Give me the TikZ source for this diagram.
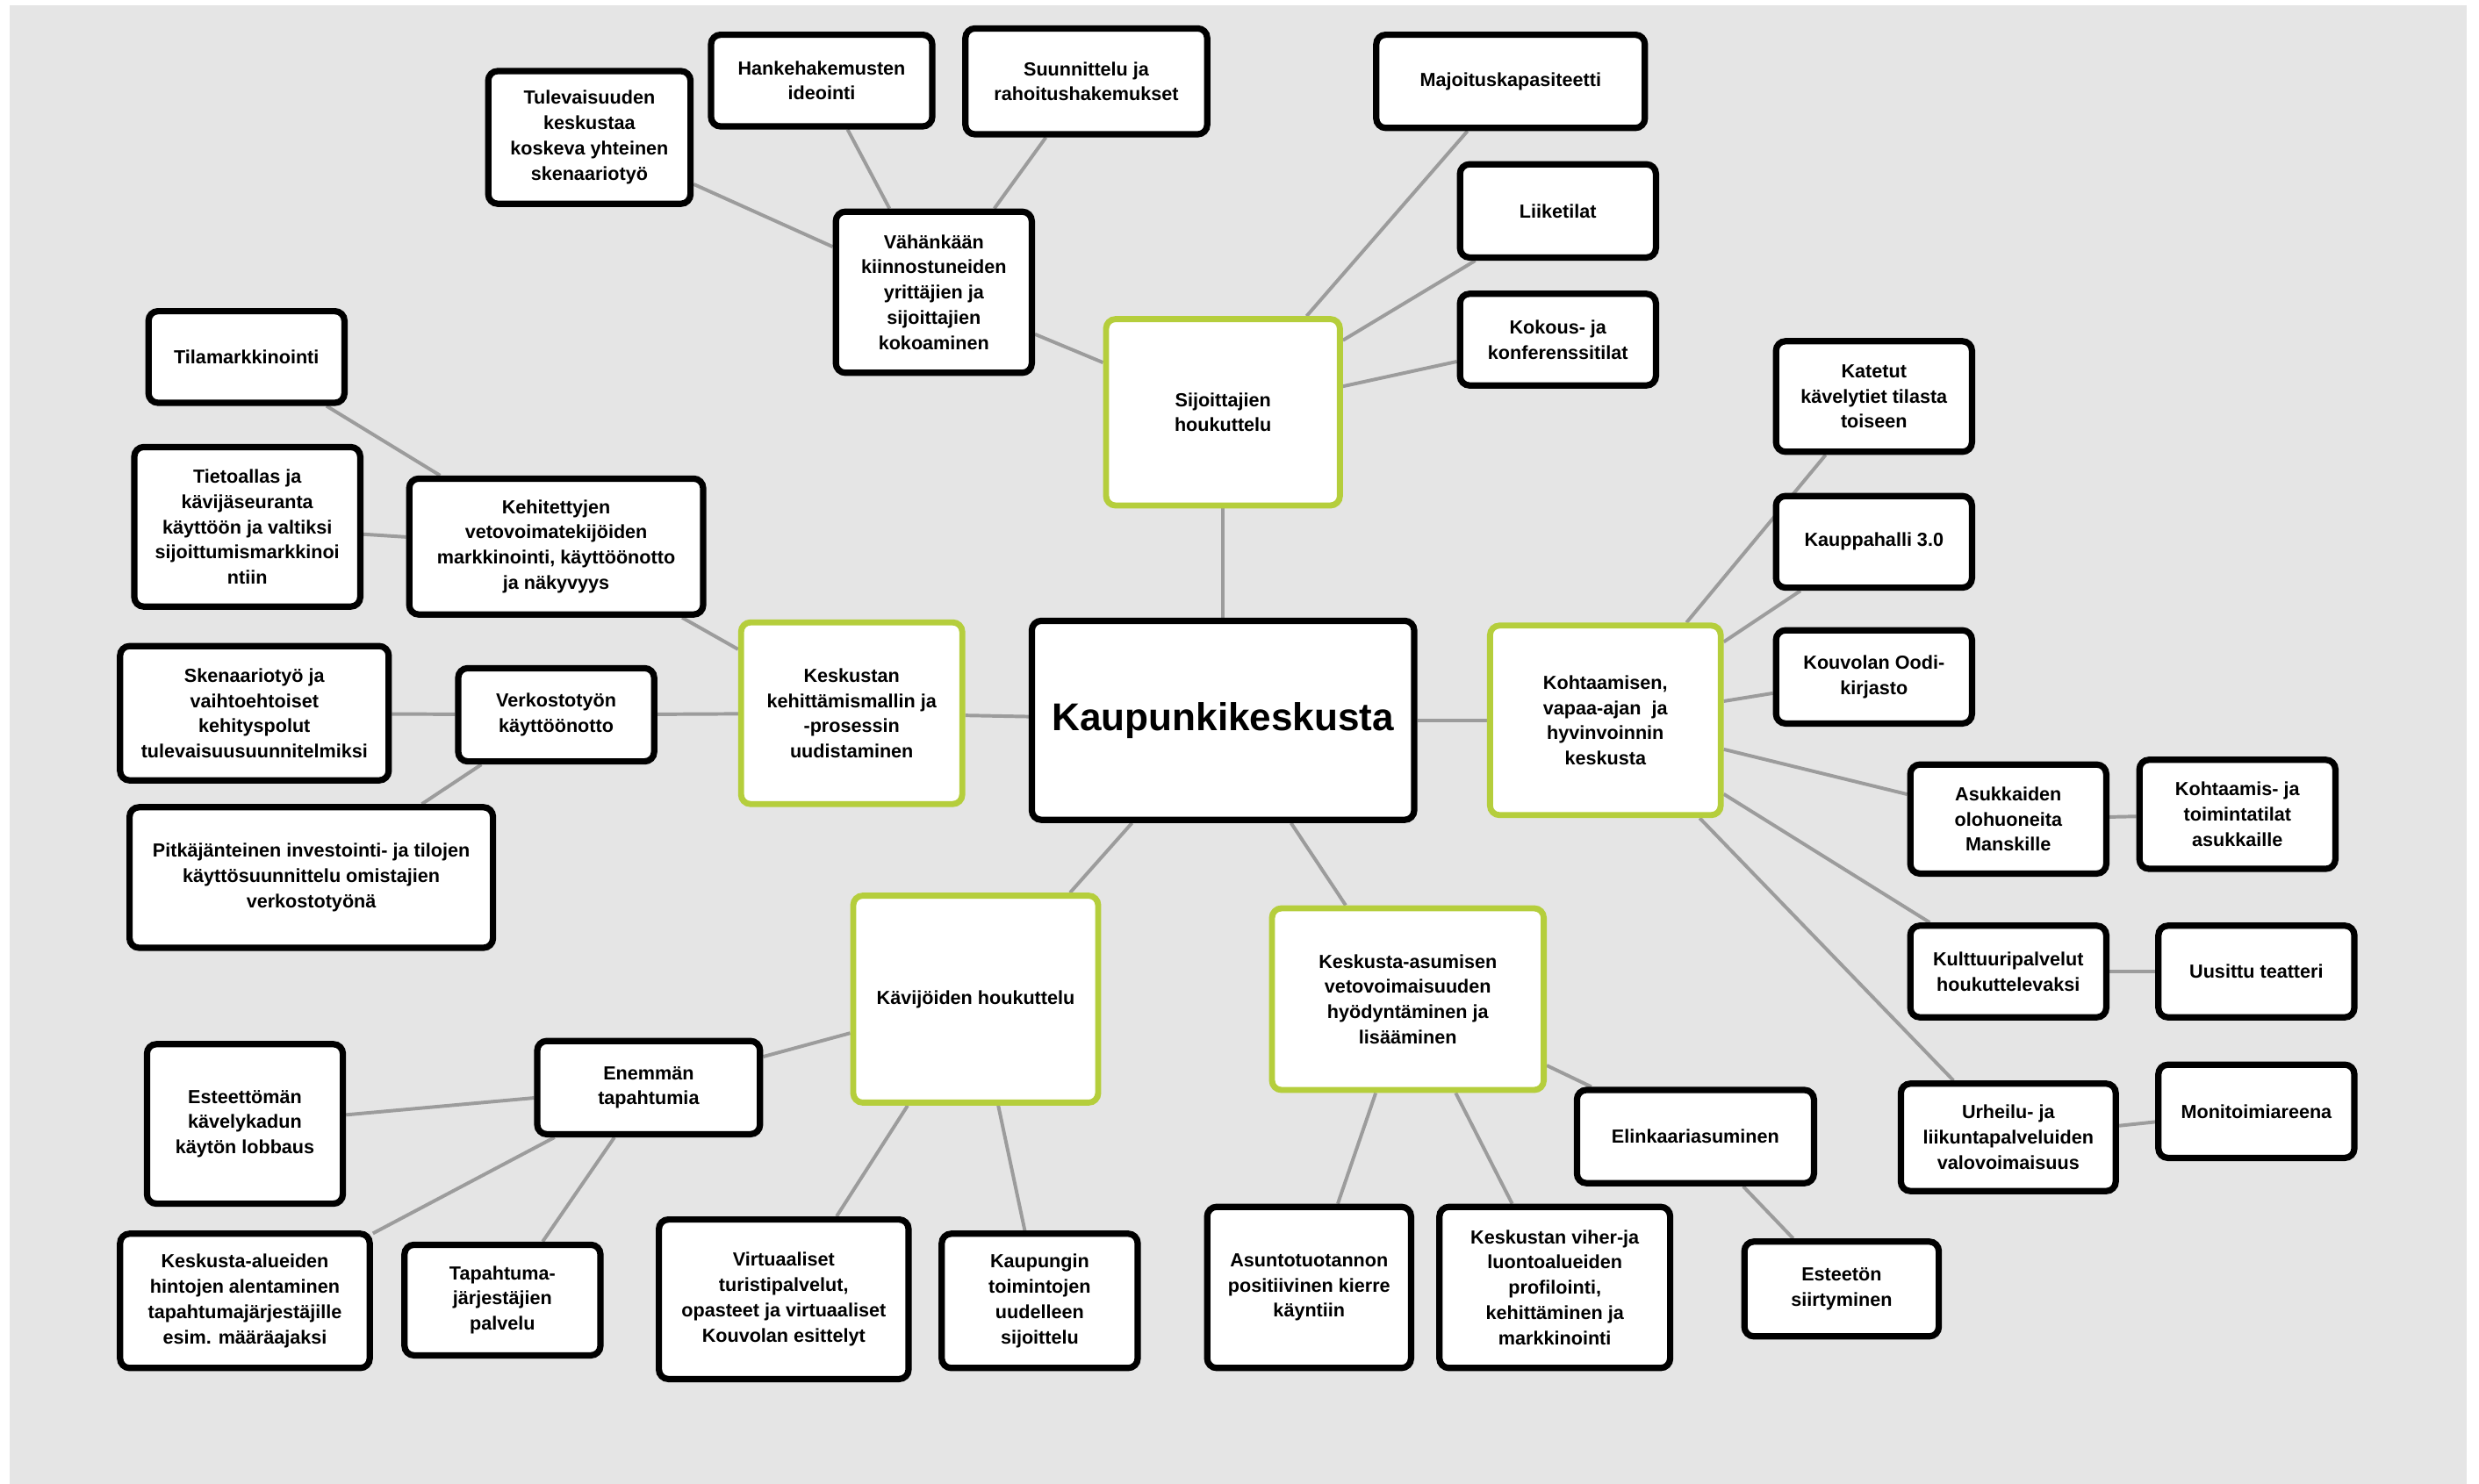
\documentclass[tikz,border=0pt]{standalone}
\usepackage{fontspec}
\setmainfont{Liberation Sans}
\usetikzlibrary{backgrounds}
\definecolor{bggray}{HTML}{E5E5E5}
\definecolor{lgreen}{HTML}{B5CE3C}
\definecolor{edgegray}{HTML}{9C9C9C}
\tikzset{
  box/.style={draw=black, line width=4pt, fill=white, rounded corners=6pt,
    align=center, inner sep=2pt, text=black,
    font=\bfseries\fontsize{12}{16}\selectfont},
  gbox/.style={box, draw=lgreen, line width=3.8pt},
  sz/.style 2 args={minimum width=#1pt, minimum height=#2pt},
  link/.style={draw=edgegray, line width=2.2pt},
}
\begin{document}
\begin{tikzpicture}[x=1pt,y=-1pt]
\useasboundingbox (0,0) rectangle (1568.9,939.4);
% central and green nodes
\node[box, sz={242}{126}, font=\bfseries\fontsize{24.5}{28}\selectfont] (c) at (774,456) {Kaupunkikeskusta};
\node[gbox, sz={148}{118}] (sij) at (774,261) {Sijoittajien\\houkuttelu};
\node[gbox, sz={140}{115}] (kes) at (539,451.5) {Keskustan\\kehittämismallin ja\\-prosessin\\uudistaminen};
\node[gbox, sz={146}{120}] (koh) at (1016,456) {Kohtaamisen,\\vapaa-ajan~ ja\\hyvinvoinnin\\keskusta};
\node[gbox, sz={155}{131}] (kav) at (617.5,632.5) {Kävijöiden houkuttelu};
\node[gbox, sz={172}{115}] (asu) at (891,632.5) {Keskusta-asumisen\\vetovoimaisuuden\\hyödyntäminen ja\\lisääminen};
% top
\node[box, sz={128}{84}] (tul) at (373,87) {Tulevaisuuden\\keskustaa\\koskeva yhteinen\\skenaariotyö};
\node[box, sz={140}{58}] (han) at (520,51) {Hankehakemusten\\ideointi};
\node[box, sz={153}{67}] (suu) at (687.5,51.5) {Suunnittelu ja\\rahoitushakemukset};
\node[box, sz={124}{102}] (vah) at (591,185) {Vähänkään\\kiinnostuneiden\\yrittäjien ja\\sijoittajien\\kokoaminen};
\node[box, sz={170}{59}] (maj) at (956,51.5) {Majoituskapasiteetti};
\node[box, sz={124}{59}] (lii) at (986,133.5) {Liiketilat};
\node[box, sz={124}{58}] (kok) at (986,215) {Kokous- ja\\konferenssitilat};
% right
\node[box, sz={124}{70}] (kat) at (1186,251) {Katetut\\kävelytiet tilasta\\toiseen};
\node[box, sz={124}{58}] (kph) at (1186,343) {Kauppahalli 3.0};
\node[box, sz={124}{59}] (ood) at (1186,428.5) {Kouvolan Oodi-\\kirjasto};
\node[box, sz={124}{69}] (ask) at (1271,518.5) {Asukkaiden\\olohuoneita\\Manskille};
\node[box, sz={124}{69}] (kta) at (1416,515.5) {Kohtaamis- ja\\toimintatilat\\asukkaille};
\node[box, sz={124}{58}] (kul) at (1271,615) {Kulttuuripalvelut\\houkuttelevaksi};
\node[box, sz={124}{58}] (uus) at (1428,615) {Uusittu teatteri};
\node[box, sz={136}{68}] (urh) at (1271,720) {Urheilu- ja\\liikuntapalveluiden\\valovoimaisuus};
\node[box, sz={124}{59}] (mon) at (1428,703.5) {Monitoimiareena};
% bottom right
\node[box, sz={150}{59}] (eli) at (1073,719.5) {Elinkaariasuminen};
\node[box, sz={123}{60}] (ets) at (1165.5,816) {Esteetön\\siirtyminen};
\node[box, sz={129}{102}] (ast) at (828.5,815) {Asuntotuotannon\\positiivinen kierre\\käyntiin};
\node[box, sz={146}{102}] (vih) at (984,815) {Keskustan viher-ja\\luontoalueiden\\profilointi,\\kehittäminen ja\\markkinointi};
% bottom left
\node[box, sz={124}{85}] (kpg) at (658,823.5) {Kaupungin\\toimintojen\\uudelleen\\sijoittelu};
\node[box, sz={158}{101}] (vir) at (496,822.5) {Virtuaaliset\\turistipalvelut,\\opasteet ja virtuaaliset\\Kouvolan esittelyt};
\node[box, sz={141}{59}] (ene) at (410.5,688.5) {Enemmän\\tapahtumia};
\node[box, sz={124}{101}] (esk) at (155,711.5) {Esteettömän\\kävelykadun\\käytön lobbaus};
\node[box, sz={158}{85}] (kal) at (155,823.5) {Keskusta-alueiden\\hintojen alentaminen\\tapahtumajärjestäjille\\esim. määräajaksi};
\node[box, sz={124}{70}] (tap) at (318,823) {Tapahtuma-\\järjestäjien\\palvelu};
% left
\node[box, sz={124}{58}] (tila) at (156,226) {Tilamarkkinointi};
\node[box, sz={143}{101}] (tie) at (156.5,333.5) {Tietoallas ja\\kävijäseuranta\\käyttöön ja valtiksi\\sijoittumismarkkinoi\\ntiin};
\node[box, sz={186}{86}] (keh) at (352,346) {Kehitettyjen\\vetovoimatekijöiden\\markkinointi, käyttöönotto\\ja näkyvyys};
\node[box, sz={170}{85}] (ske) at (161,451.5) {Skenaariotyö ja\\vaihtoehtoiset\\kehityspolut\\tulevaisuusuunnitelmiksi};
\node[box, sz={124}{59}] (ver) at (352,452.5) {Verkostotyön\\käyttöönotto};
\node[box, sz={230}{89}] (pit) at (197,555.5) {Pitkäjänteinen investointi- ja tilojen\\käyttösuunnittelu omistajien\\verkostotyönä};
\begin{scope}[on background layer]
\fill[bggray] (6.1,3.3) rectangle (1561,939.4);
\draw[link] (c) -- (sij);
\draw[link] (c) -- (kes);
\draw[link] (c) -- (koh);
\draw[link] (c) -- (kav);
\draw[link] (c) -- (asu);
\draw[link] (sij) -- (vah);
\draw[link] (sij) -- (maj);
\draw[link] (sij) -- (lii);
\draw[link] (sij) -- (kok);
\draw[link] (vah) -- (tul);
\draw[link] (vah) -- (han);
\draw[link] (vah) -- (suu);
\draw[link] (kes) -- (keh);
\draw[link] (kes) -- (ver);
\draw[link] (keh) -- (tila);
\draw[link] (keh) -- (tie);
\draw[link] (ver) -- (ske);
\draw[link] (ver) -- (pit);
\draw[link] (koh) -- (kat);
\draw[link] (koh) -- (kph);
\draw[link] (koh) -- (ood);
\draw[link] (koh) -- (ask);
\draw[link] (koh) -- (kul);
\draw[link] (koh) -- (urh);
\draw[link] (ask) -- (kta);
\draw[link] (kul) -- (uus);
\draw[link] (urh) -- (mon);
\draw[link] (kav) -- (ene);
\draw[link] (kav) -- (vir);
\draw[link] (kav) -- (kpg);
\draw[link] (ene) -- (esk);
\draw[link] (ene) -- (kal);
\draw[link] (ene) -- (tap);
\draw[link] (asu) -- (ast);
\draw[link] (asu) -- (vih);
\draw[link] (asu) -- (eli);
\draw[link] (eli) -- (ets);
\end{scope}
\end{tikzpicture}
\end{document}
